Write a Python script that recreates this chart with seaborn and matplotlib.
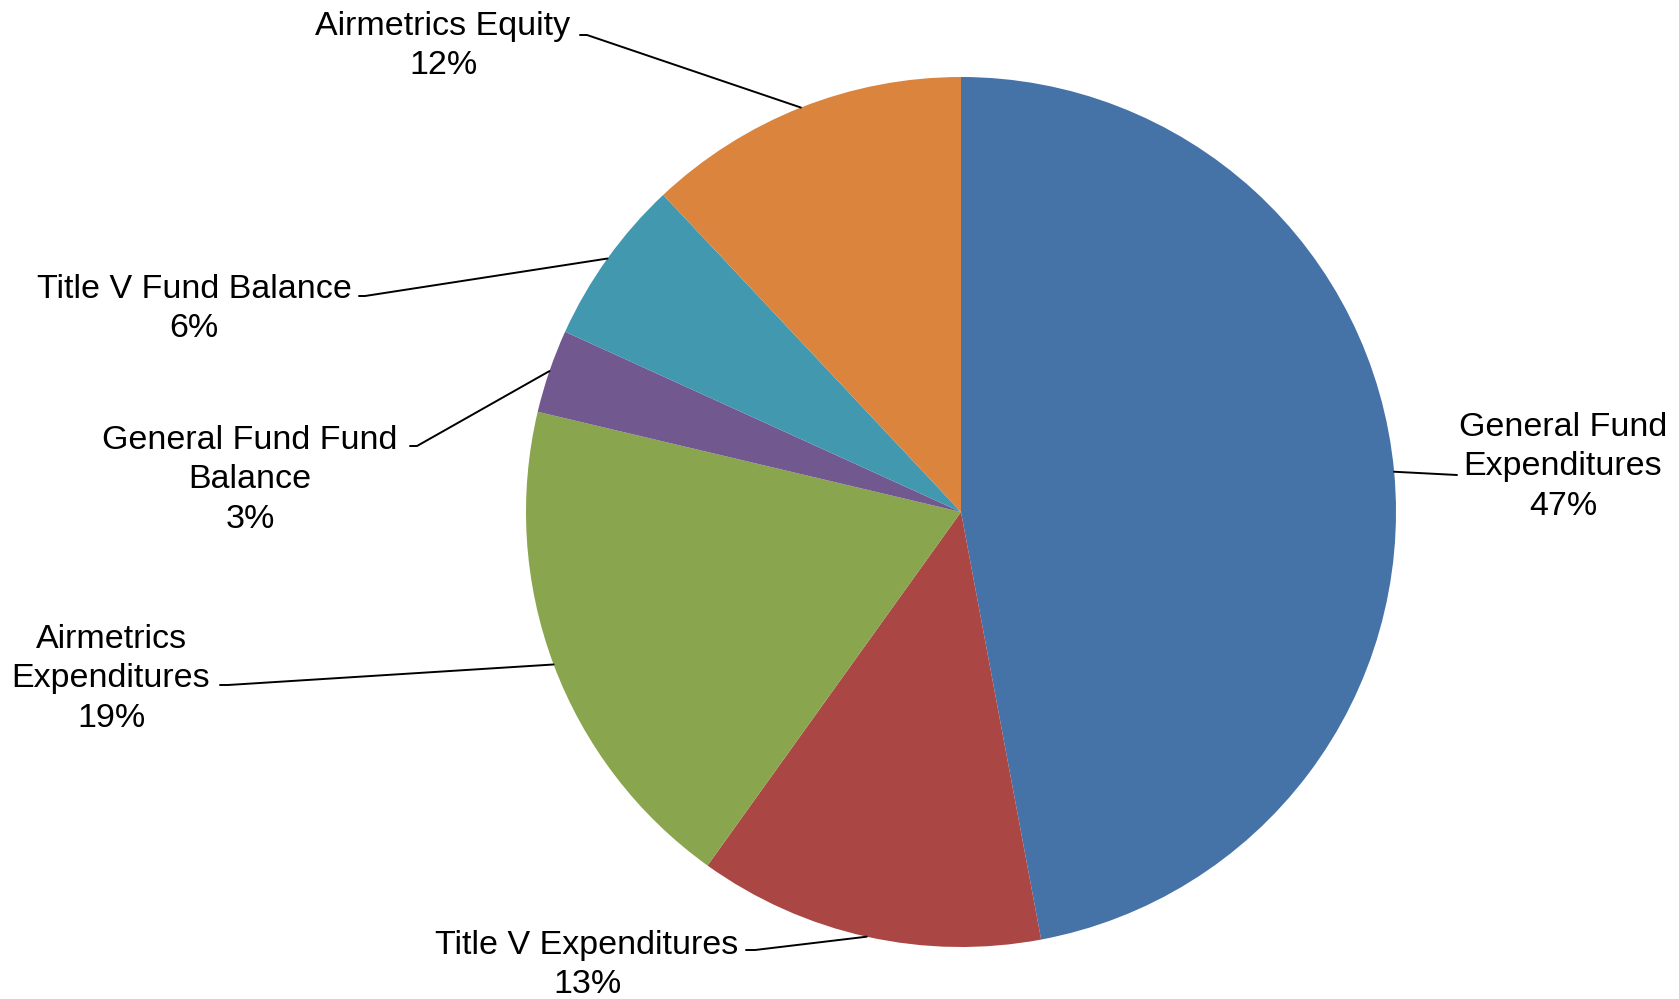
import numpy as np
import seaborn as sns
import matplotlib.pyplot as plt

# Pie data (clockwise from 12 o'clock)
categories = ["General Fund\nExpenditures", "Title V Expenditures", "Airmetrics\nExpenditures",
              "General Fund Fund\nBalance", "Title V Fund Balance", "Airmetrics Equity"]
values = [47.05, 12.85, 18.8, 3.1, 6.2, 12.0]
colors = ["#4572A7", "#AA4643", "#89A54E", "#71588F", "#4198AF", "#DB843D"]

# label layout in pixel coords (x, y from top): text centre, and start of leader line
label_xy = [(1563, 467), (587, 965), (111, 679), (250, 480), (194, 309), (443, 46)]
leader_start = [(1457, 475), (746, 950), (220, 685), (410, 446), (359, 296), (580, 35)]
tick_len = [0, 9, 8, 7, 6, 7]

W, H = 1679, 999
sns.set_theme(style="white")
plt.rcParams['font.family'] = ['Liberation Sans', 'DejaVu Sans']

fig = plt.figure(figsize=(W / 100, H / 100), dpi=100)
ax = fig.add_axes([0, 0, 1, 1])
ax.set_aspect('equal')
ax.axis('off')

cx, cy, r = 961, H - 512, 435
wedges, _ = ax.pie(values, colors=sns.color_palette(colors), startangle=90, counterclock=False,
                   center=(cx, cy), radius=r, wedgeprops=dict(linewidth=0))
ax.set_xlim(0, W)
ax.set_ylim(0, H)

total = sum(values)
for w, lab, v, (tx, ty), (sx, sy), tl in zip(wedges, categories, values, label_xy, leader_start, tick_len):
    mid = np.deg2rad((w.theta1 + w.theta2) / 2)
    ex, ey = cx + r * np.cos(mid), cy + r * np.sin(mid)
    pct = round(v / total * 100)
    ax.text(tx, H - ty, f"{lab}\n{pct}%", ha='center', va='center', fontsize=24.5,
            linespacing=1.34, color='black')
    xs = [sx, sx + tl, ex]
    ys = [H - sy, H - sy, ey]
    ax.plot(xs, ys, color='black', lw=1.4)

fig.savefig('out.png', dpi=100)
